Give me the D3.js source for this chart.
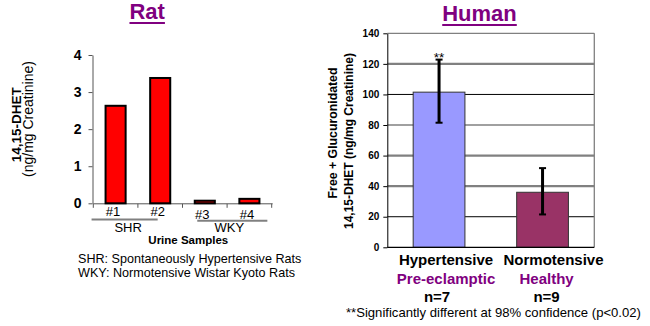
<!DOCTYPE html>
<html>
<head>
<meta charset="utf-8">
<script src="https://cdn.jsdelivr.net/npm/d3@7"></script>
<style>
  html, body { margin: 0; padding: 0; background: #fff; }
  svg { display: block; font-family: "Liberation Sans", Arial, sans-serif; }
</style>
</head>
<body>
<svg id="chart" width="650" height="326"></svg>
<script>
// ---------- DATA ----------
// Rat panel
const ratSamples = ["#1", "#2", "#3", "#4"];
const ratValues = [2.63, 3.38, 0.07, 0.12];
const ratGroupOf = ["SHR", "SHR", "WKY", "WKY"];
const ratGroups = ["SHR", "WKY"];
const ratTicks = [0, 1, 2, 3, 4];
const ratNotes = ["SHR: Spontaneously Hypertensive Rats", "WKY: Normotensive Wistar Kyoto Rats"];

// Human panel
const humCategories = ["Hypertensive", "Normotensive"];
const humSubLabels = ["Pre-eclamptic", "Healthy"];
const humN = ["n=7", "n=9"];
const humValues = [101.5, 36];
const humErrLow = [81.5, 21.5];
const humErrHigh = [122.8, 51.8];
const humSignif = ["**", ""];
const humTicks = [0, 20, 40, 60, 80, 100, 120, 140];
const humFootnote = "**Significantly different at 98% confidence (p<0.02)";

// ---------- DRAW ----------
const svg = d3.select("#chart");
const purple = "#800080";
const font = "Liberation Sans, Arial, sans-serif";

function title(text, cx, baseline) {
  const t = svg.append("text").attr("x", cx).attr("y", baseline)
    .attr("text-anchor", "middle").attr("font-size", 22).attr("font-weight", "bold")
    .attr("fill", purple).text(text);
  const w = t.node().getComputedTextLength();
  svg.append("rect").attr("x", cx - w / 2).attr("y", baseline + 3)
    .attr("width", w).attr("height", 2).attr("fill", purple);
}

// ===== RAT =====
title("Rat", 147.2, 19);

const ratY = d3.scaleLinear().domain([0, 4]).range([203.3, 55]);
const ratX = d3.scaleBand().domain(ratSamples).range([93.3, 271.7])
  .paddingInner(0.55).paddingOuter(0.275);

const ratYAxis = svg.append("g").attr("transform", "translate(92.5,0)")
  .call(d3.axisLeft(ratY).tickValues(ratTicks).tickFormat(d3.format("d"))
    .tickSize(4).tickSizeOuter(0).tickPadding(7));
ratYAxis.select(".domain").attr("stroke", "#555");
ratYAxis.selectAll(".tick line").attr("stroke", "#555");
ratYAxis.selectAll(".tick text").attr("font-family", font).attr("font-size", 14)
  .attr("font-weight", "bold").attr("fill", "#000");

// x axis with tick marks between categories
const step = ratX.step();
const x0 = ratX.range()[0];
const ratBounds = d3.range(ratSamples.length + 1).map(i => x0 + i * step);
svg.append("line").attr("x1", x0).attr("x2", ratBounds[ratBounds.length - 1] + 1)
  .attr("y1", ratY(0) + 0.5).attr("y2", ratY(0) + 0.5).attr("stroke", "#555");
svg.selectAll(".rattick").data(ratBounds).enter().append("line")
  .attr("x1", d => d).attr("x2", d => d)
  .attr("y1", ratY(0) + 0.5).attr("y2", ratY(0) + 4.5).attr("stroke", "#555");

// bars
svg.selectAll(".ratbar").data(ratValues).enter().append("rect")
  .attr("x", (d, i) => ratX(ratSamples[i]))
  .attr("y", d => ratY(d))
  .attr("width", ratX.bandwidth())
  .attr("height", d => ratY(0) - ratY(d))
  .attr("fill", "#ff0000").attr("stroke", "#000").attr("stroke-width", 2);

// sample labels
svg.selectAll(".ratlab").data(ratSamples).enter().append("text")
  .attr("x", (d, i) => ratX(d) + ratX.bandwidth() / 2 - 2.5)
  .attr("y", (d, i) => ratGroups.indexOf(ratGroupOf[i]) === 0 ? 216 : 218.5)
  .attr("text-anchor", "middle").attr("font-size", 13).attr("fill", "#000").text(d => d);

// group lines and labels
const groupLineAdj = [[-14, 7.5], [2.5, 28]];
ratGroups.forEach((g, gi) => {
  const members = ratSamples.filter((s, i) => ratGroupOf[i] === g);
  const xs = ratX(members[0]) + groupLineAdj[gi][0];
  const xe = ratX(members[members.length - 1]) + groupLineAdj[gi][1];
  const ly = 219.5 + gi * 1.2;
  svg.append("line").attr("x1", xs).attr("x2", xe).attr("y1", ly).attr("y2", ly)
    .attr("stroke", "#808080").attr("stroke-width", 2);
  svg.append("text").attr("x", (xs + xe) / 2 + (gi === 0 ? 3.5 : -3))
    .attr("y", 232).attr("text-anchor", "middle").attr("font-size", 13)
    .attr("fill", "#000").text(g);
});
svg.append("text").attr("x", 188.3).attr("y", 243.5).attr("text-anchor", "middle")
  .attr("font-size", 11.5).attr("font-weight", "bold").attr("fill", "#000").text("Urine Samples");

// y title
svg.append("text").attr("transform", "translate(21,124.7) rotate(-90)")
  .attr("text-anchor", "middle").attr("font-size", 13.5).attr("font-weight", "bold")
  .attr("fill", "#000").text("14,15-DHET");
svg.append("text").attr("transform", "translate(32.5,119) rotate(-90)")
  .attr("text-anchor", "middle").attr("font-size", 14)
  .attr("fill", "#000").text("(ng/mg Creatinine)");

// notes
svg.selectAll(".note").data(ratNotes).enter().append("text")
  .attr("x", 78).attr("y", (d, i) => 263 + i * 14).attr("font-size", 12.6)
  .attr("fill", "#000").text(d => d);

// ===== HUMAN =====
title("Human", 479.5, 21);

const humY = d3.scaleLinear().domain([0, 140]).range([247.3, 33.3]);
const humX = d3.scaleBand().domain(humCategories).range([387.3, 594.3])
  .paddingInner(0.5).paddingOuter(0.25);
const [hx0, hx1] = humX.range();

// gridlines (Excel-ish rendering: varying weights)
const gridStyle = v => (v === 100 || v === 20) ? { c: "#000", w: 1 }
  : (v === 120 || v === 60 || v === 40) ? { c: "#808080", w: 2.2 } : { c: "#808080", w: 1.3 };
svg.selectAll(".grid").data(humTicks.filter(v => v > 0)).enter().append("line")
  .attr("x1", hx0).attr("x2", hx1)
  .attr("y1", d => humY(d)).attr("y2", d => humY(d))
  .attr("stroke", d => gridStyle(d).c).attr("stroke-width", d => gridStyle(d).w);
// plot right border
svg.append("line").attr("x1", hx1).attr("x2", hx1).attr("y1", humY(140)).attr("y2", humY(0))
  .attr("stroke", "#808080").attr("stroke-width", 1.3);

// bars
const humColors = ["#9999ff", "#993366"];
svg.selectAll(".humbar").data(humValues).enter().append("rect")
  .attr("x", (d, i) => humX(humCategories[i]))
  .attr("y", d => humY(d))
  .attr("width", humX.bandwidth())
  .attr("height", d => humY(0) - humY(d))
  .attr("fill", (d, i) => humColors[i]).attr("stroke", "#333").attr("stroke-width", 1);

// axes
const humYAxis = svg.append("g").attr("transform", `translate(${hx0},0)`)
  .call(d3.axisLeft(humY).tickValues(humTicks).tickSize(4).tickSizeOuter(0).tickPadding(4));
humYAxis.select(".domain").attr("stroke", "#000");
humYAxis.selectAll(".tick line").attr("stroke", "#000");
humYAxis.selectAll(".tick text").attr("font-family", font).attr("font-size", 10)
  .attr("font-weight", "bold").attr("fill", "#000");
svg.append("line").attr("x1", hx0).attr("x2", hx1).attr("y1", humY(0)).attr("y2", humY(0))
  .attr("stroke", "#000").attr("stroke-width", 1.3);

// error bars
humValues.forEach((v, i) => {
  const cx = humX(humCategories[i]) + humX.bandwidth() / 2;
  const g = svg.append("g");
  g.append("line").attr("x1", cx).attr("x2", cx)
    .attr("y1", humY(humErrHigh[i])).attr("y2", humY(humErrLow[i]))
    .attr("stroke", "#000").attr("stroke-width", 3);
  [humErrHigh[i], humErrLow[i]].forEach(e => {
    g.append("line").attr("x1", cx - 3.5).attr("x2", cx + 3.5)
      .attr("y1", humY(e)).attr("y2", humY(e)).attr("stroke", "#000").attr("stroke-width", 2);
  });
  if (humSignif[i]) {
    svg.append("text").attr("x", cx).attr("y", humY(humErrHigh[i]) + 2.5)
      .attr("text-anchor", "middle").attr("font-size", 13.5).attr("fill", "#000").text(humSignif[i]);
  }
});

// category labels
const rowAdj = [[7, 11], [7, 4], [-2, 4]];
const rows = [
  { data: humCategories, y: 265, color: "#000" },
  { data: humSubLabels, y: 284, color: purple },
  { data: humN, y: 302, color: "#000" }
];
rows.forEach((r, ri) => {
  svg.selectAll(".row" + ri).data(r.data).enter().append("text")
    .attr("x", (d, i) => humX(humCategories[i]) + humX.bandwidth() / 2 + rowAdj[ri][i])
    .attr("y", r.y).attr("text-anchor", "middle").attr("font-size", 15)
    .attr("font-weight", "bold").attr("fill", r.color).text(d => d);
});

// y title
svg.append("text").attr("transform", "translate(337,133) rotate(-90)")
  .attr("text-anchor", "middle").attr("font-size", 12.3).attr("font-weight", "bold")
  .attr("fill", "#000").text("Free + Glucuronidated");
svg.append("text").attr("transform", "translate(353,141) rotate(-90)")
  .attr("text-anchor", "middle").attr("font-size", 12).attr("font-weight", "bold")
  .attr("fill", "#000").text("14,15-DHET (ng/mg Creatinine)");

// footnote
svg.append("text").attr("x", 346).attr("y", 316.5).attr("font-size", 13.1)
  .attr("fill", "#000").text(humFootnote);
</script>
</body>
</html>
